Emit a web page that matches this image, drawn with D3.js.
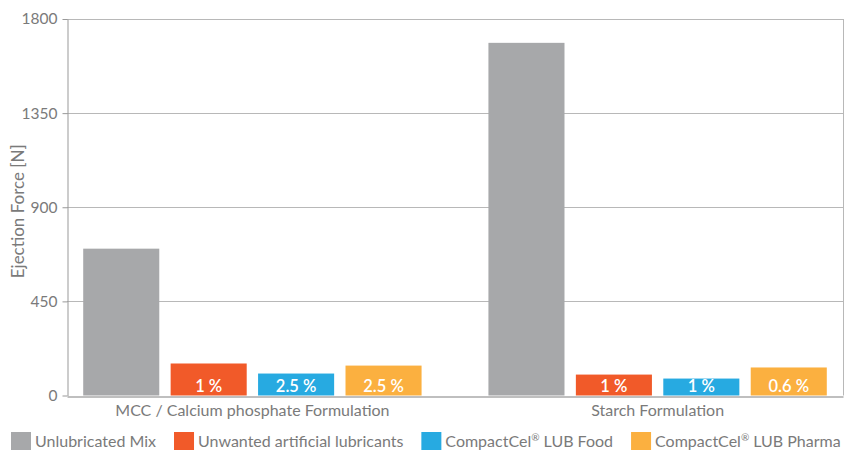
<!DOCTYPE html>
<html>
<head>
<meta charset="utf-8">
<script src="https://cdn.jsdelivr.net/npm/d3@7"></script>
<style>
  body { margin: 0; background: #fff; }
  svg { display: block; font-family: Lato, "Open Sans", sans-serif; }
</style>
</head>
<body>
<div id="chart"></div>
<script>
// formulations on the x axis, lubricant series inside each group
const categories = ["MCC / Calcium phosphate Formulation", "Starch Formulation"];
const series = ["Unlubricated Mix", "Unwanted artificial lubricants", "CompactCel® LUB Food", "CompactCel® LUB Pharma"];
const seriesColor = ["#a7a8aa", "#f15a29", "#27aae1", "#fbb040"];

// ejection force [N], one array per formulation, in series order
const mccValues = [702, 153, 105, 143];
const starchValues = [1686, 100, 81, 134];

// dosage labels printed on the bars ("" = no label)
const mccLabels = ["", "1 %", "2.5 %", "2.5 %"];
const starchLabels = ["", "1 %", "1 %", "0.6 %"];

const yTicks = [0, 450, 900, 1350, 1800];

const rows = [
    { category: categories[0], values: mccValues, labels: mccLabels },
    { category: categories[1], values: starchValues, labels: starchLabels }
];

const width = 846, height = 451;
const margin = { top: 19, right: 3, bottom: 55, left: 67 };
const textColor = "#7a7a7a";

const svg = d3.select("#chart").append("svg")
    .attr("width", width)
    .attr("height", height);

const x0 = d3.scaleBand()
    .domain(categories)
    .range([margin.left, width - margin.right])
    .paddingInner(0.165)
    .paddingOuter(0.04);

const x1 = d3.scaleBand()
    .domain(series)
    .range([0, x0.bandwidth()])
    .paddingInner(0.13);

const y = d3.scaleLinear()
    .domain([0, 1800])
    .range([height - margin.bottom - 0.5, margin.top]);

const color = d3.scaleOrdinal().domain(series).range(seriesColor);

// grid lines
svg.append("g")
    .selectAll("line")
    .data(yTicks.slice(1))
    .join("line")
    .attr("x1", margin.left)
    .attr("x2", width - margin.right)
    .attr("y1", d => Math.round(y(d)) + 0.5)
    .attr("y2", d => Math.round(y(d)) + 0.5)
    .attr("stroke", "#b8b8b8")
    .attr("stroke-width", 1);

// right border
svg.append("line")
    .attr("x1", width - margin.right + 0.5)
    .attr("x2", width - margin.right + 0.5)
    .attr("y1", y(1800))
    .attr("y2", y(0))
    .attr("stroke", "#b8b8b8");

// bars
const group = svg.append("g")
    .selectAll("g")
    .data(rows)
    .join("g")
    .attr("transform", d => `translate(${x0(d.category)},0)`);

group.selectAll("rect")
    .data(d => series.map((s, i) => ({ s, v: d.values[i], label: d.labels[i] })))
    .join("rect")
    .attr("x", d => x1(d.s))
    .attr("width", x1.bandwidth())
    .attr("y", d => y(d.v))
    .attr("height", d => y(0) - y(d.v))
    .attr("fill", d => color(d.s));

group.selectAll("text.val")
    .data(d => series.map((s, i) => ({ s, label: d.labels[i] })).filter(d => d.label))
    .join("text")
    .attr("class", "val")
    .attr("x", d => x1(d.s) + x1.bandwidth() / 2)
    .attr("y", y(0) - 4)
    .attr("text-anchor", "middle")
    .attr("fill", "#fff")
    .attr("font-size", 16.5)
    .attr("font-weight", 600)
    .text(d => d.label);

// y axis
const yAxis = svg.append("g")
    .attr("transform", `translate(${margin.left + 0.5},0)`)
    .call(d3.axisLeft(y).tickValues(yTicks).tickFormat(d3.format("d"))
        .tickSize(5).tickPadding(5).tickSizeOuter(0));
yAxis.select(".domain").attr("stroke", "#999");
yAxis.selectAll(".tick line").attr("stroke", "#999");
yAxis.selectAll(".tick text")
    .attr("fill", textColor)
    .attr("font-size", 15.5)
    .attr("font-family", "Lato, sans-serif");

// x axis baseline + category labels
const xAxis = svg.append("g")
    .attr("transform", `translate(0,${Math.round(y(0)) + 0.5})`)
    .call(d3.axisBottom(x0).tickSize(0).tickPadding(8).tickSizeOuter(0));
xAxis.select(".domain").attr("stroke", "#aaa").attr("stroke-width", 1.5);
xAxis.selectAll(".tick text")
    .attr("fill", textColor)
    .attr("font-size", 16)
    .attr("font-family", "Lato, sans-serif");

// y title
svg.append("text")
    .attr("transform", `translate(24,${(y(0) + y(1800)) / 2 + 4}) rotate(-90)`)
    .attr("text-anchor", "middle")
    .attr("fill", textColor)
    .attr("font-size", 17)
    .text("Ejection Force [N]");

// legend, with a small raised ® like the reference
const legend = svg.append("g").attr("transform", "translate(11,432)");
let lx = 0;
series.forEach((s, i) => {
    const item = legend.append("g").attr("transform", `translate(${lx},0)`);
    item.append("rect")
        .attr("width", 20)
        .attr("height", 18)
        .attr("fill", seriesColor[i]);
    const t = item.append("text")
        .attr("x", 24)
        .attr("y", 15)
        .attr("fill", textColor)
        .attr("font-size", 16);
    s.split("®").forEach((part, j) => {
        if (j > 0) {
            t.append("tspan")
                .attr("font-size", 10)
                .attr("dy", -6)
                .text("®");
            t.append("tspan").attr("dy", 6).text(part);
        } else {
            t.append("tspan").text(part);
        }
    });
    lx += 24 + t.node().getComputedTextLength() + 18;
});
</script>
</body>
</html>
